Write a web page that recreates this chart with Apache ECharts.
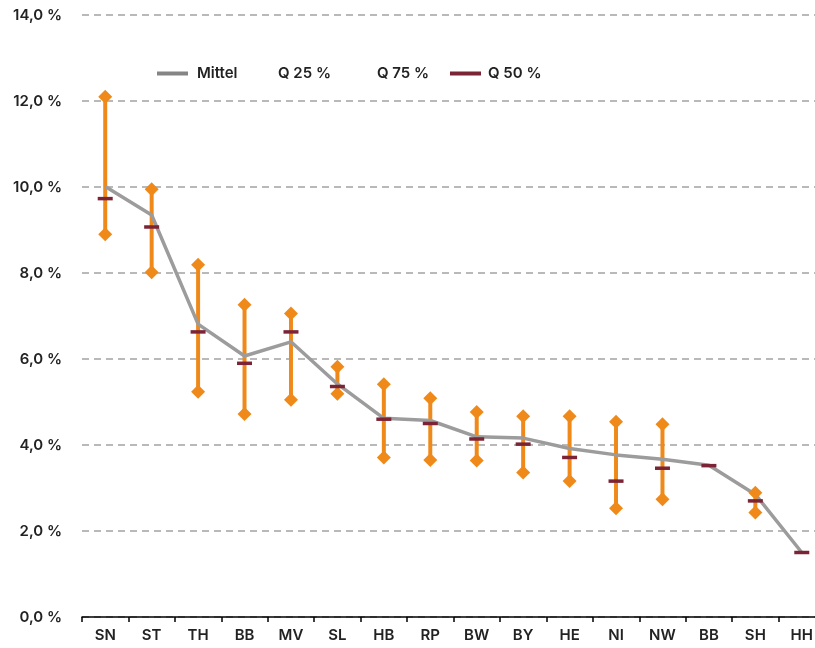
<!DOCTYPE html>
<html>
<head>
<meta charset="utf-8">
<script src="https://cdn.jsdelivr.net/npm/echarts@6/dist/echarts.min.js"></script>
<style>
  html, body { margin: 0; padding: 0; background: #fff; }
  #main { width: 815px; height: 648px; }
</style>
</head>
<body>
<div id="main"></div>
<script>
// Daten (in Prozent)
var categories = ['SN', 'ST', 'TH', 'BB', 'MV', 'SL', 'HB', 'RP', 'BW', 'BY', 'HE', 'NI', 'NW', 'BB', 'SH', 'HH'];
var mittel = [10.01, 9.35, 6.81, 6.07, 6.40, 5.42, 4.62, 4.57, 4.19, 4.16, 3.92, 3.77, 3.67, 3.53, 2.85, 1.50];
var q25 = [8.90, 8.02, 5.24, 4.72, 5.05, 5.19, 3.71, 3.65, 3.64, 3.36, 3.16, 2.53, 2.74, null, 2.43, null];
var q75 = [12.10, 9.95, 8.19, 7.26, 7.06, 5.82, 5.41, 5.09, 4.77, 4.67, 4.67, 4.54, 4.48, null, 2.89, null];
var q50 = [9.73, 9.07, 6.63, 5.90, 6.63, 5.36, 4.60, 4.50, 4.14, 4.02, 3.71, 3.16, 3.46, 3.52, 2.70, 1.50];
var yTicks = [0, 2, 4, 6, 8, 10, 12, 14];

var ORANGE = '#ef8a1a';
var GRAU = '#9c9c9c';
var ROT = '#7b2435';
var FONT = 'Inter';

function pts(arr) {
    var out = [];
    arr.forEach(function (v, i) { if (v !== null) out.push([i, v]); });
    return out;
}
var spanne = [];
q25.forEach(function (v, i) { if (v !== null && q75[i] !== null) spanne.push([i, v, q75[i]]); });

var myChart = echarts.init(document.getElementById('main'));
var legText = { fontFamily: FONT, fontSize: 15, fontWeight: 600, color: '#222' };

var option = {
    animation: false,
    // Achse läuft rechts über den Rand hinaus (wie im Original)
    grid: { left: 82, right: -10, top: 15, bottom: 31, outerBoundsMode: 'none' },
    legend: [
        { data: [{ name: 'Mittel', icon: 'rect', itemStyle: { color: '#858585' } }],
          left: 152, top: 61, itemWidth: 31, itemHeight: 4,
          textStyle: Object.assign({ padding: [0, 0, 0, 4] }, legText) },
        { data: ['Q 25 %'], left: 268, top: 61, itemWidth: 0, itemHeight: 0, textStyle: legText },
        { data: ['Q 75 %'], left: 367, top: 61, itemWidth: 0, itemHeight: 0, textStyle: legText },
        { data: [{ name: 'Q 50 %', icon: 'rect' }], left: 445, top: 61, itemWidth: 31, itemHeight: 4,
          textStyle: Object.assign({ padding: [0, 0, 0, 2] }, legText) }
    ],
    xAxis: {
        type: 'category',
        data: categories,
        axisLine: { lineStyle: { color: '#000', width: 1.5 } },
        axisTick: { show: true, length: 5, lineStyle: { color: '#000', width: 1.5 } },
        axisLabel: { fontFamily: FONT, fontSize: 15, fontWeight: 600, color: '#222', margin: 11 }
    },
    yAxis: {
        type: 'value',
        min: yTicks[0],
        max: yTicks[yTicks.length - 1],
        interval: 2,
        axisLine: { show: false },
        axisTick: { show: false },
        axisLabel: {
            fontFamily: FONT, fontSize: 15, fontWeight: 600, color: '#222', margin: 20,
            formatter: function (v) { return v.toFixed(1).replace('.', ',') + ' %'; }
        },
        splitLine: { lineStyle: { color: '#a3a3a3', width: 1.5, type: [7, 5] } }
    },
    series: [
        {
            name: 'Spanne',
            type: 'custom',
            data: spanne,
            z: 1,
            renderItem: function (params, api) {
                var a = api.coord([api.value(0), api.value(1)]);
                var b = api.coord([api.value(0), api.value(2)]);
                return {
                    type: 'line',
                    shape: { x1: a[0], y1: a[1], x2: b[0], y2: b[1] },
                    style: { stroke: ORANGE, lineWidth: 4 }
                };
            }
        },
        {
            name: 'Mittel',
            type: 'line',
            data: mittel,
            z: 2,
            symbol: 'none',
            color: '#858585',
            lineStyle: { color: GRAU, width: 3.5 }
        },
        {
            name: 'Q 25 %',
            type: 'scatter',
            data: pts(q25),
            z: 3,
            symbol: 'diamond',
            symbolSize: 14,
            itemStyle: { color: ORANGE, opacity: 1 }
        },
        {
            name: 'Q 75 %',
            type: 'scatter',
            data: pts(q75),
            z: 3,
            symbol: 'diamond',
            symbolSize: 14,
            itemStyle: { color: ORANGE, opacity: 1 }
        },
        {
            name: 'Q 50 %',
            type: 'scatter',
            data: pts(q50),
            z: 4,
            symbol: 'rect',
            symbolSize: [15, 3.5],
            itemStyle: { color: ROT, opacity: 1 }
        }
    ]
};

myChart.setOption(option);
</script>
</body>
</html>
